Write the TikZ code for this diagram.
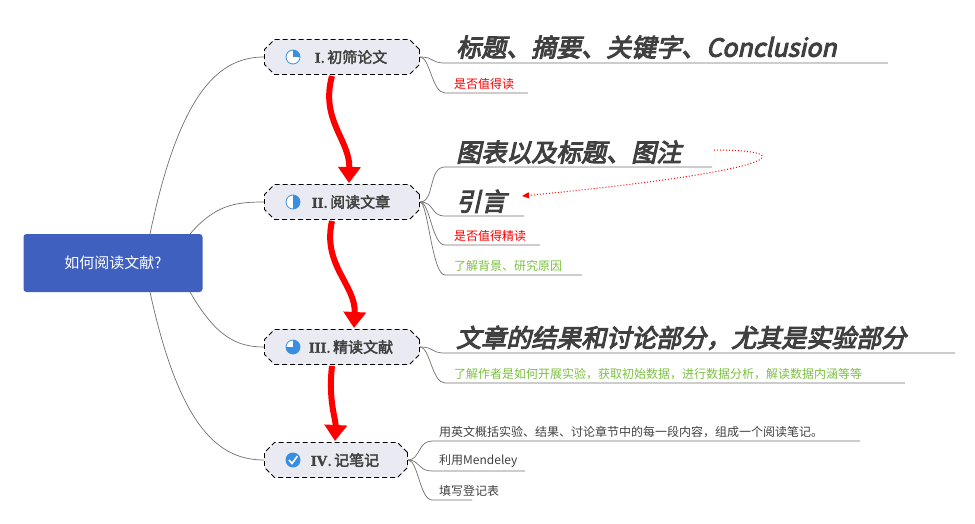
\documentclass[tikz,border=0pt]{standalone}
\usepackage{fontspec}
\setmainfont{Noto Sans CJK SC}
\newfontfamily\bigf[FakeSlant=0.22,FakeBold=4]{Noto Sans CJK SC}
\newfontfamily\boxf[FakeBold=2.5]{Noto Sans CJK SC}
\newfontfamily\serf[FakeBold=2]{Liberation Serif}
\usetikzlibrary{shapes.misc,arrows.meta}
\definecolor{gry}{HTML}{404040}
\definecolor{lin}{HTML}{707070}
\definecolor{ico}{HTML}{3A8EE0}
\definecolor{grn}{HTML}{7CC040}
\begin{document}
\begin{tikzpicture}[x=1pt,y=-1pt,
  topic/.style={chamfered rectangle,chamfered rectangle corners={north west,south west,north east,south east},chamfered rectangle angle=45,chamfered rectangle sep=5pt,fill={rgb,255:red,234;green,234;blue,242},draw=black,dash pattern=on 5pt off 3pt,line width=0.8pt,minimum height=35pt,font=\boxf\fontsize{15}{17}\selectfont,text=gry,inner xsep=8pt},
  bigt/.style={anchor=south west,font=\bigf\fontsize{25}{28}\selectfont,text=gry,inner sep=1pt},
  smt/.style={anchor=south west,font=\fontsize{12}{14}\selectfont,inner sep=2pt},
  br/.style={draw=lin,line width=0.7pt},
  flow/.style={draw=red,line width=6pt,-{Triangle[length=16pt,width=22pt]}}]
\useasboundingbox (0,0) rectangle (975,524);
\node[fill={rgb,255:red,64;green,96;blue,192},rounded corners=3pt,minimum width=179pt,minimum height=58pt,text=white,font=\fontsize{15}{17}\selectfont] (root) at (113,263) {如何阅读文献?};
\node[topic,minimum width=155pt] (t1) at (342,57) {\hspace{18pt}{\serf\bfseries I}.\,初筛论文};
\node[topic,minimum width=155pt] (t2) at (342,202) {\hspace{18pt}{\serf\bfseries II}.\,阅读文章};
\node[topic,minimum width=155pt] (t3) at (342,347) {\hspace{18pt}{\serf\bfseries III}.\,精读文献};
\node[topic,minimum width=143pt] (t4) at (336,460) {\hspace{18pt}{\serf\bfseries IV}.\,记笔记};
% icons (local y up)
\begin{scope}[shift={(293,57)},yscale=-1]
\draw[ico,line width=0.8pt,fill=white] (0,0) circle (7);
\fill[ico] (0,0) -- (0,7) arc (90:0:7) -- cycle;
\end{scope}
\begin{scope}[shift={(293,202)},yscale=-1]
\draw[ico,line width=0.8pt,fill=white] (0,0) circle (7);
\fill[ico] (0,7) arc (90:-90:7) -- cycle;
\end{scope}
\begin{scope}[shift={(293,347)},yscale=-1]
\draw[ico,line width=0.8pt,fill=white] (0,0) circle (7);
\fill[ico] (0,0) -- (0,7) arc (90:-180:7) -- cycle;
\end{scope}
\fill[ico] (293,460) circle (7.5);
\draw[white,line width=1.6pt] (289,460) -- (292,463.5) -- (297.5,456);
% root branches
\draw[br] (150,234) .. controls (180,90) and (220,57) .. (t1.west);
\draw[br] (190,234) .. controls (215,205) and (235,202) .. (t2.west);
\draw[br] (190,292) .. controls (215,335) and (235,347) .. (t3.west);
\draw[br] (150,292) .. controls (180,430) and (220,460) .. (t4.west);
% leaves
\coordinate (e1) at (420,57);\coordinate (e2) at (420,202);\coordinate (e3) at (420,347);\coordinate (e4) at (408,460);
\node[bigt] (a1) at (455,60) {标题、摘要、关键字、Conclusion};
\draw[br] (e1) .. controls (435,57) and (430,63) .. (445,63) -- (888,63);
\node[smt,text=red] (a2) at (452,92) {是否值得读};
\draw[br] (e1) .. controls (430,57) and (432,93) .. (445,93) -- (528,93);
\node[bigt] (b1) at (455,165) {图表以及标题、图注};
\draw[br] (e2) .. controls (435,202) and (428,167) .. (445,167) -- (712,167);
\node[bigt] (b2) at (455,214) {引言};
\draw[br] (e2) .. controls (435,202) and (430,216) .. (445,216) -- (524,216);
\node[smt,text=red] (b3) at (452,244) {是否值得精读};
\draw[br] (e2) .. controls (430,202) and (432,245) .. (445,245) -- (540,245);
\node[smt,text=grn] (b4) at (452,274) {了解背景、研究原因};
\draw[br] (e2) .. controls (428,202) and (432,275) .. (445,275) -- (582,275);
\draw[red,dotted,line width=1pt,-{Triangle[length=7pt,width=6pt]}] (714,150) .. controls (800,150) and (790,170) .. (522,196);
\node[bigt] (c1) at (455,351) {文章的结果和讨论部分，尤其是实验部分};
\draw[br] (e3) .. controls (435,347) and (430,353) .. (445,353) -- (955,353);
\node[smt,text=grn] (c2) at (452,382) {了解作者是如何开展实验，获取初始数据，进行数据分析，解读数据内涵等等};
\draw[br] (e3) .. controls (430,347) and (432,383) .. (445,383) -- (905,383);
\node[smt,text=gry] (d1) at (437,440) {用英文概括实验、结果、讨论章节中的每一段内容，组成一个阅读笔记。};
\draw[br] (e4) .. controls (420,460) and (418,441) .. (432,441) -- (860,441);
\node[smt,text=gry] (d2) at (437,470) {利用Mendeley};
\draw[br] (e4) .. controls (420,460) and (418,471) .. (432,471) -- (525,471);
\node[smt,text=gry] (d3) at (437,499) {填写登记表};
\draw[br] (e4) .. controls (418,460) and (420,500) .. (432,500) -- (472,500);
% flow arrows
\draw[flow] (332,76) .. controls (320,120) and (350,140) .. (349,183);
\draw[flow] (332,221) .. controls (322,265) and (356,285) .. (354,328);
\draw[flow] (332,366) .. controls (328,400) and (336,420) .. (335,441);
\end{tikzpicture}
\end{document}
